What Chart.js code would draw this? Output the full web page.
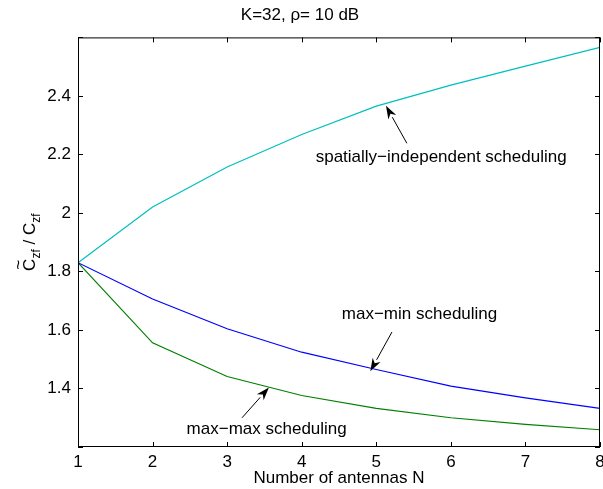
<!DOCTYPE html>
<html>
<head>
<meta charset="utf-8">
<script src="https://cdn.jsdelivr.net/npm/chart.js@4"></script>
<style>
  html, body { margin: 0; padding: 0; background: #fff; }
  canvas { display: block; }
</style>
</head>
<body>
<canvas id="chart" width="603" height="489"></canvas>
<script>
const antennas = [1, 2, 3, 4, 5, 6, 7, 8];
const spatiallyIndependent = [1.83, 2.02, 2.157, 2.268, 2.365, 2.437, 2.502, 2.566];
const maxMin = [1.83, 1.706, 1.604, 1.524, 1.465, 1.408, 1.368, 1.332];
const maxMax = [1.83, 1.556, 1.441, 1.376, 1.332, 1.300, 1.277, 1.259];
const yTickLabels = [1.4, 1.6, 1.8, 2.0, 2.2, 2.4];

// annotation text position and arrow tail/head, in data units
const notes = [
  { text: "spatially\u2212independent scheduling", at: [5.87, 2.19], tail: [5.41, 2.238], head: [5.13, 2.366] },
  { text: "max\u2212min scheduling", at: [5.58, 1.652], tail: [5.21, 1.593], head: [4.92, 1.459] },
  { text: "max\u2212max scheduling", at: [3.53, 1.259], tail: [3.2, 1.30], head: [3.56, 1.403] }
];

const FONT = "Liberation Sans, Arial, Helvetica, sans-serif";

function toPoints(ys) {
  return antennas.map((x, i) => ({ x: x, y: ys[i] }));
}

const matlabBox = {
  id: "matlabBox",
  afterDraw(chart) {
    const c = chart.ctx, a = chart.chartArea;
    const xs = chart.scales.x, ys = chart.scales.y;
    c.save();
    c.strokeStyle = "#000";
    c.lineWidth = 1;
    c.strokeRect(a.left + 0.5, a.top + 0.5, a.right - a.left - 1, a.bottom - a.top - 1);
    // inside ticks on all four sides
    c.beginPath();
    xs.ticks.forEach(t => {
      const px = Math.round(xs.getPixelForValue(t.value)) + 0.5;
      c.moveTo(px, a.bottom); c.lineTo(px, a.bottom - 5);
      c.moveTo(px, a.top); c.lineTo(px, a.top + 5);
    });
    ys.ticks.forEach(t => {
      const py = Math.round(ys.getPixelForValue(t.value)) + 0.5;
      c.moveTo(a.left, py); c.lineTo(a.left + 5, py);
      c.moveTo(a.right, py); c.lineTo(a.right - 5, py);
    });
    c.stroke();

    // annotations with arrows
    c.fillStyle = "#000";
    c.font = "17px " + FONT;
    c.textAlign = "center";
    c.textBaseline = "middle";
    notes.forEach(n => {
      c.fillText(n.text, xs.getPixelForValue(n.at[0]), ys.getPixelForValue(n.at[1]));
      const x0 = xs.getPixelForValue(n.tail[0]), y0 = ys.getPixelForValue(n.tail[1]);
      const x1 = xs.getPixelForValue(n.head[0]), y1 = ys.getPixelForValue(n.head[1]);
      const ang = Math.atan2(y1 - y0, x1 - x0);
      const len = 13, half = 4.5;
      const bx = x1 - len * Math.cos(ang), by = y1 - len * Math.sin(ang);
      c.beginPath();
      c.moveTo(x0, y0); c.lineTo(bx, by);
      c.stroke();
      c.beginPath();
      c.moveTo(x1, y1);
      c.lineTo(bx + half * Math.sin(ang), by - half * Math.cos(ang));
      c.lineTo(x1 - 0.7 * len * Math.cos(ang), y1 - 0.7 * len * Math.sin(ang));
      c.lineTo(bx - half * Math.sin(ang), by + half * Math.cos(ang));
      c.closePath();
      c.fill();
    });

    // y axis label: C~zf / Czf
    c.translate(29, (a.top + a.bottom) / 2);
    c.rotate(-Math.PI / 2);
    c.textAlign = "left";
    c.textBaseline = "alphabetic";
    const big = "17px " + FONT, small = "12px " + FONT;
    const parts = [["C", big, 0], ["zf", small, 5], [" / C", big, 0], ["zf", small, 5]];
    let w = 0;
    parts.forEach(p => { c.font = p[1]; w += c.measureText(p[0]).width; });
    let x = -w / 2;
    const base = 6;
    parts.forEach((p, i) => {
      c.font = p[1];
      c.fillText(p[0], x, base + p[2]);
      if (i === 0) {
        c.font = big;
        const cw = c.measureText("C").width;
        c.fillText("~", x + cw / 2 - c.measureText("~").width / 2, base - 11);
      }
      c.font = p[1];
      x += c.measureText(p[0]).width;
    });
    c.restore();
  }
};

new Chart(document.getElementById("chart"), {
  type: "line",
  data: {
    datasets: [
      { label: "spatially-independent", data: toPoints(spatiallyIndependent), borderColor: "rgb(0,191,191)" },
      { label: "max-min", data: toPoints(maxMin), borderColor: "rgb(0,0,255)" },
      { label: "max-max", data: toPoints(maxMax), borderColor: "rgb(0,128,0)" }
    ]
  },
  options: {
    responsive: false,
    animation: false,
    elements: {
      line: { borderWidth: 1.2, tension: 0, fill: false },
      point: { radius: 0, hoverRadius: 0 }
    },
    layout: { padding: { left: 0, right: 3, top: 0, bottom: 0 } },
    plugins: {
      legend: { display: false },
      tooltip: { enabled: false },
      title: {
        display: true,
        text: "K=32, \u03c1= 10 dB",
        color: "#000",
        font: { family: FONT, size: 17, weight: "normal" },
        padding: { top: 5, bottom: 12 }
      }
    },
    scales: {
      x: {
        type: "linear",
        min: 1, max: 8,
        grid: { display: false, drawTicks: false },
        border: { display: false },
        ticks: { stepSize: 1, color: "#000", padding: 5, font: { family: FONT, size: 17 } },
        title: {
          display: true, text: "Number of antennas N", color: "#000",
          font: { family: FONT, size: 17 }, padding: { top: 0, bottom: 0 }
        },
        afterFit(s) { s.height = 42; s.paddingLeft = 0; s.paddingRight = 0; }
      },
      y: {
        min: 1.2, max: 2.6,
        grid: { display: false, drawTicks: false },
        border: { display: false },
        ticks: {
          stepSize: 0.2, color: "#000", padding: 7,
          font: { family: FONT, size: 17 },
          callback: v => {
            const hit = yTickLabels.find(t => Math.abs(t - v) < 1e-6);
            return hit === undefined ? "" : String(Math.round(hit * 10) / 10);
          }
        },
        afterFit(s) { s.width = 78; s.paddingTop = 0; s.paddingBottom = 0; }
      }
    }
  },
  plugins: [matlabBox]
});
</script>
</body>
</html>
